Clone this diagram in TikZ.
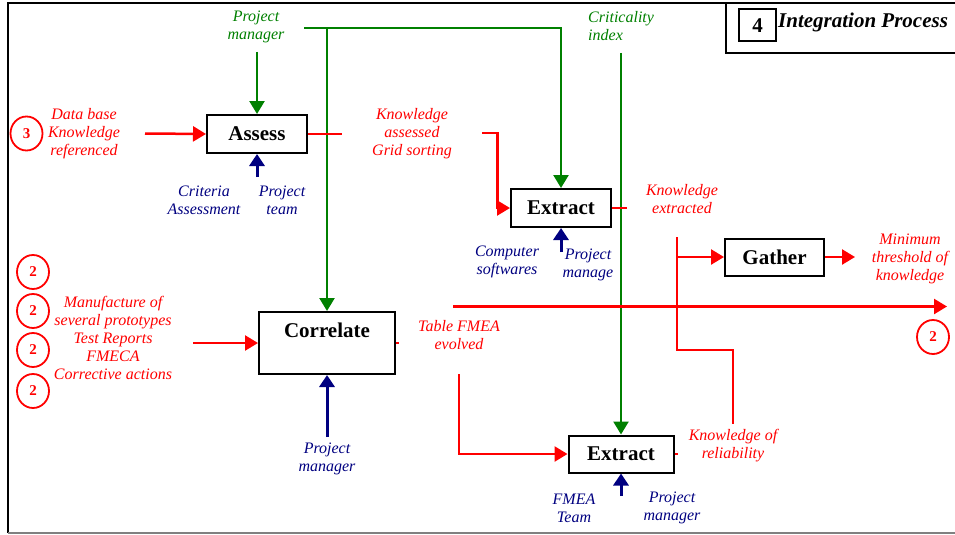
\documentclass[tikz,border=0pt]{standalone}
\usepackage{fontspec}
\setmainfont{Liberation Serif}
\usetikzlibrary{arrows.meta,shapes.geometric}
\definecolor{dred}{RGB}{255,0,0}
\definecolor{dgreen}{RGB}{0,128,0}
\definecolor{dblue}{RGB}{0,0,128}
\tikzset{
  procbox/.style={draw=black, line width=2pt, fill=white, inner sep=0pt,
    font=\fontsize{21}{24}\selectfont\bfseries},
  lab/.style={font=\fontsize{16}{18}\selectfont\itshape, align=center, inner sep=0pt},
  redlab/.style={lab, text=dred},
  greenlab/.style={lab, text=dgreen},
  bluelab/.style={lab, text=dblue},
  rl/.style={draw=dred, line width=2.5pt},
  ra/.style={rl, -{Triangle[length=13pt,width=15pt]}},
  gl/.style={draw=dgreen, line width=2.5pt},
  ga/.style={gl, -{Triangle[length=13pt,width=15pt]}},
  ba/.style={draw=dblue, line width=3pt, -{Triangle[length=12pt,width=15pt]}},
  circ/.style={ellipse, draw=dred, line width=1.8pt, minimum width=32pt,
    minimum height=34pt, text=dred, inner sep=0pt,
    font=\fontsize{15}{15}\selectfont\bfseries},
  frame/.style={draw=black, line width=2pt}
}
\begin{document}
\begin{tikzpicture}[x=1pt,y=-1pt]
\useasboundingbox (0,0) rectangle (955,535);
% outer frame
\draw[frame] (955,3) -- (8,3) -- (8,533);
\draw[draw=gray, line width=2pt] (8,533) -- (955,533);
% title
\draw[frame] (726,3) -- (726,53) -- (955,53);
\node[procbox, minimum width=37pt, minimum height=32pt] (num4) at (757.5,25.5) {4};
\node[anchor=west, inner sep=0pt, font=\fontsize{21}{24}\selectfont\bfseries\itshape] (title) at (778,22) {Integration Process};

% boxes
\node[procbox, minimum width=100pt, minimum height=38pt] (assess) at (257,134) {Assess};
\node[procbox, minimum width=100pt, minimum height=38pt] (ext1) at (561,208) {Extract};
\node[procbox, minimum width=105pt, minimum height=37pt] (ext2) at (621,454) {Extract};
\node[procbox, minimum width=99pt, minimum height=37pt] (gather) at (774.5,257) {Gather};
\node[procbox, minimum width=136pt, minimum height=62pt] (corr) at (327,343) {};
\node[inner sep=0pt, font=\fontsize{21}{24}\selectfont\bfseries] (corrt) at (327,330) {Correlate};

% circles
\node[circ] (c3) at (26.5,133.5) {3};
\node[circ] (c2a) at (33,272) {2};
\node[circ] (c2b) at (33,311) {2};
\node[circ] (c2c) at (33,350) {2};
\node[circ] (c2d) at (33,391) {2};
\node[circ] (c2r) at (933,337) {2};

% labels
\node[greenlab] (pmtop) at (256,27) {Project\\manager};
\node[greenlab, anchor=west, align=left] (crit) at (588,26.5) {Criticality\\index};
\node[redlab] (dbk) at (84,134) {Data base\\Knowledge\\referenced};
\node[redlab] (kag) at (412,134) {Knowledge\\assessed\\Grid sorting};
\node[redlab] (ke) at (682,199.5) {Knowledge\\extracted};
\node[redlab] (mtk) at (910,258.5) {Minimum\\threshold of\\knowledge};
\node[redlab] (tfe) at (459,335.5) {Table FMEA\\evolved};
\node[redlab] (kor) at (733,446) {Knowledge of\\reliability};
\node[redlab] (mfg) at (113,337.5) {Manufacture of\\several prototypes\\Test Reports\\FMECA\\Corrective actions};
\node[bluelab] (crita) at (204,200.5) {Criteria\\Assessment};
\node[bluelab] (pt) at (282,200.5) {Project\\team};
\node[bluelab] (cs) at (507,261.5) {Computer\\softwares};
\node[bluelab] (pm1) at (588,265) {Project\\manage};
\node[bluelab] (pm2) at (327,459) {Project\\manager};
\node[bluelab] (fmt) at (574,508) {FMEA\\Team};
\node[bluelab] (pm3) at (672,508) {Project\\manager};

% coordinates for free ends
\coordinate (gA) at (257,52);
\coordinate (gS) at (304,28);
\coordinate (gJ) at (327,28);
\coordinate (gC) at (621,53);
\coordinate (r3) at (145,133.5);
\coordinate (rAo) at (342,134);
\coordinate (rK) at (482,133);
\coordinate (rKc) at (497.5,133);
\coordinate (rE1o) at (627,208);
\coordinate (rGt) at (677,237);
\coordinate (rGb) at (677,350);
\coordinate (rRc) at (733,350);
\coordinate (rRe) at (733,424);
\coordinate (rGj) at (677,257);
\coordinate (rGo) at (855,257);
\coordinate (rHs) at (453,306.5);
\coordinate (rHe) at (947,306.5);
\coordinate (rT) at (459,374);
\coordinate (rE2o) at (678,454);
\coordinate (rCi) at (193,343);
\coordinate (rCo) at (399,343);
\coordinate (bA) at (257,177);
\coordinate (bE1) at (561,252);
\coordinate (bC) at (327,437);
\coordinate (bE2) at (621,496);

% green connectors
\draw[ga] (gA) -- (assess.north);
\draw[ga] (gS) -| (ext1.north);
\draw[ga] (gJ) -- (corr.north);
\draw[ga] (gC) -- (ext2.north);

% red connectors
\draw[ra] (r3) -- (assess.west);
\draw[rl] (assess.east) -- (rAo);
\draw[ra] (rK) -- (rKc) |- (ext1.west);
\draw[rl] (ext1.east) -- (rE1o);
\draw[rl] (rGt) -- (rGb) -- (rRc) -- (rRe);
\draw[ra] (rGj) -- (gather.west);
\draw[ra] (gather.east) -- (rGo);
\draw[ra] (rHs) -- (rHe);
\draw[ra] (rT) |- (ext2.west);
\draw[rl] (ext2.east) -- (rE2o);
\draw[ra] (rCi) -- (corr.west);
\draw[rl] (corr.east) -- (rCo);

% blue connectors
\draw[ba] (bA) -- (assess.south);
\draw[ba] (bE1) -- (ext1.south);
\draw[ba] (bC) -- (corr.south);
\draw[ba] (bE2) -- (ext2.south);
\end{tikzpicture}
\end{document}
